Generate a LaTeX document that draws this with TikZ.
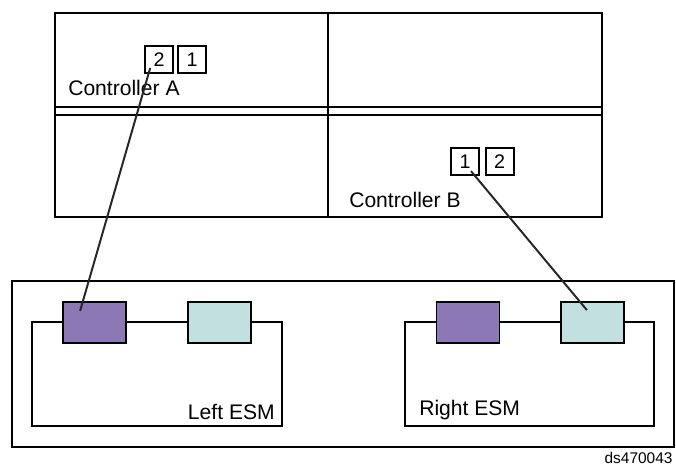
\documentclass[tikz,border=0pt]{standalone}
\usepackage{fontspec}
\setmainfont{Liberation Sans}
\usetikzlibrary{arrows, arrows.meta}
\usetikzlibrary{positioning}
\definecolor{esmpurple}{HTML}{8B78B4}
\definecolor{esmcyan}{HTML}{C2E0E0}
\tikzset{port/.style={draw, line width=1.3pt, minimum width=0.7cm, minimum height=0.675cm, inner sep=0pt, font=\fontsize{14}{16}\selectfont},
         esm/.style={draw, line width=1.1pt, minimum width=1.575cm, minimum height=1.025cm},
         lbl/.style={inner sep=0pt, font=\fontsize{15}{18}\selectfont},
         cable/.style={line width=1.4pt, color=black!85}}

\begin{document}
\begin{tikzpicture}
\useasboundingbox (0,0) rectangle (16.9,11.65);
\draw[line width=1.4pt] (1.375,6.225) rectangle (15.05,11.325); %Gehaeuse
\draw[line width=1.4pt] (8.2,6.225)--(8.2,11.325);
\draw[line width=1.4pt] (1.375,8.975)--(15.08,8.975);
\draw[line width=1.4pt] (1.375,8.775)--(15.05,8.775);
\node[lbl, anchor=west] (ctrlA) at (1.7,9.45) {Controller A};
\node[lbl, anchor=west] (ctrlB) at (8.725,6.65) {Controller B};
\node[port] (portA2) at (3.975,10.16) {2};
\node[port] (portA1) at (4.8,10.16) {1};
\node[port] (portB1) at (11.625,7.6125) {1};
\node[port] (portB2) at (12.49,7.6125) {2};
%ESMs
\draw[line width=1pt] (0.3,0.475) rectangle (16.85,4.625);
\draw[line width=0.8pt] (0.8,1.0) rectangle (7.05,3.6);
\draw[line width=0.8pt] (10.125,1.0) rectangle (16.35,3.6);
\node[esm, fill=esmpurple] (purpleL) at (2.3625,3.5875) {};
\node[esm, fill=esmcyan] (cyanL) at (5.4875,3.5875) {};
\node[esm, fill=esmpurple] (purpleR) at (11.7,3.5875) {};
\node[esm, fill=esmcyan] (cyanR) at (14.8125,3.5875) {};
\node[lbl, anchor=east] (leftesm) at (6.875,1.35) {Left ESM};
\node[lbl, anchor=west] (rightesm) at (10.475,1.4) {Right ESM};
\node[anchor=east, inner sep=0pt, font=\fontsize{11}{13}\selectfont] (tag) at (16.82,0.2) {ds470043};
%Kabel
\draw[cable] ([shift={(-0.22,-0.21)}]portA2.center)--([shift={(-0.36,0.29)}]purpleL.center);
\draw[cable] ([shift={(0.15,-0.24)}]portB1.center)--([shift={(-0.14,0.31)}]cyanR.center);
\end{tikzpicture}
\end{document}
